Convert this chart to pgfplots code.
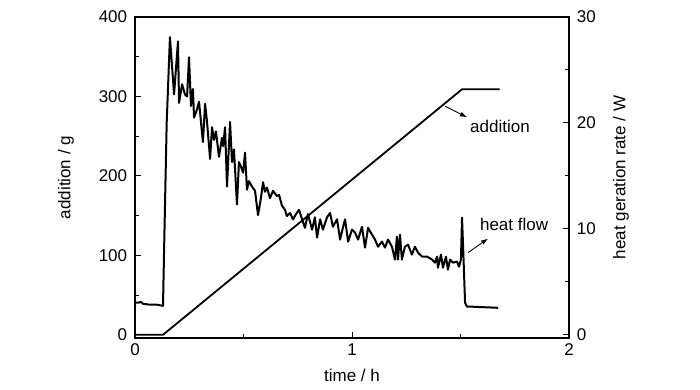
\documentclass[border=0pt]{standalone}
\usepackage{fontspec}
\setmainfont{Liberation Sans}
\usepackage{pgfplots}
\pgfplotsset{compat=1.18}
\usetikzlibrary{arrows.meta}
\begin{document}
\fontsize{17}{20}\selectfont
\begin{tikzpicture}
\useasboundingbox (-135pt,-52pt) rectangle (565pt,338pt);
\pgfplotsset{
  common/.style={
    at={(0pt,0pt)}, anchor=south west,
    scale only axis, width=434pt, height=321pt,
    xmin=0, xmax=2,
    tick align=inside,
    major tick length=6pt, minor tick length=4pt,
    axis line style={line width=1.1pt},
    every tick/.style={line width=1pt, black},
    ticklabel style={font=\fontsize{17}{20}\selectfont},
    label style={font=\fontsize{17}{20}\selectfont},
    /pgf/number format/assume math mode=true,
  }
}
\begin{axis}[common,
  ymin=-4, ymax=400,
  xtick={0,1,2}, ytick={0,100,200,300,400},
  minor x tick num=1, minor y tick num=1,
  xtick pos=bottom, ytick pos=left,
  xlabel={time / h}, ylabel={addition / g},
  xlabel style={at={(axis description cs:0.5,0)}, anchor=center, yshift=-37pt},
  ylabel style={at={(axis description cs:0,0.5)}, anchor=center, yshift=69pt},
  yticklabel style={xshift=-2pt},
]
\addplot[black, line width=1.8pt, line join=round] coordinates {
(0,0) (0.129,0) (1.507,309) (1.68,309)
};
\draw[line width=0.9pt, -{Latex[length=7pt,width=5pt]}] (axis cs:1.429,287.7) -- (axis cs:1.530,273.8);
\node[font=\fontsize{17}{20}\selectfont] at (axis cs:1.682,262.5) {addition};
\draw[line width=0.9pt, -{Latex[length=7pt,width=5pt]}] (axis cs:1.535,103.5) -- (axis cs:1.627,121.1);
\node[font=\fontsize{17}{20}\selectfont] at (axis cs:1.747,138.8) {heat flow};
\end{axis}
\begin{axis}[common,
  ymin=-0.3, ymax=30,
  hide x axis, axis y line*=right,
  ytick={0,10,20,30}, minor y tick num=1,
  ylabel={heat geration rate / W},
  ylabel style={at={(axis description cs:1,0.5)}, anchor=center, yshift=-52pt},
  yticklabel style={xshift=2pt},
]
\addplot[black, line width=2pt, line join=round] coordinates {
(0,3.03) (0.014,3.03) (0.028,3.1) (0.037,2.93) (0.069,2.84) (0.101,2.84) (0.129,2.74)
(0.136,10) (0.146,20) (0.161,28.1)
(0.180,22.7) (0.198,27.7) (0.203,21.9) (0.217,23.65) (0.230,22.7) (0.240,22.5)
(0.249,26.2) (0.258,21.6) (0.267,23.2) (0.272,20.5) (0.286,21.3) (0.295,22.0)
(0.313,18.2) (0.323,21.8) (0.332,20.1) (0.346,16.6) (0.355,19.6) (0.364,18.4)
(0.373,19.2) (0.387,16.8) (0.401,18.6) (0.406,17.8) (0.415,19.6) (0.424,14.0)
(0.438,20.1) (0.447,16.3) (0.456,17.5) (0.470,12.3) (0.479,16.3) (0.488,15.9)
(0.498,15.3) (0.507,17.2) (0.516,13.7) (0.525,14.5) (0.539,14.0) (0.553,13.6)
(0.567,11.3) (0.581,13.0) (0.590,14.4) (0.599,13.5) (0.608,13.9) (0.622,12.9)
(0.636,13.6) (0.654,13.1) (0.664,13.2) (0.677,12.2) (0.691,11.8) (0.700,11.2)
(0.714,11.5) (0.728,10.9) (0.742,11.4) (0.756,11.8) (0.770,10.9) (0.783,10.1)
(0.797,11.4) (0.816,9.93) (0.829,11.1) (0.839,9.18) (0.853,10.9) (0.866,9.93)
(0.885,11.1) (0.899,11.5) (0.912,10.2) (0.931,10.9) (0.945,8.99) (0.959,10.2)
(0.968,10.9) (0.982,8.80) (1.000,9.93) (1.014,9.65) (1.028,8.99) (1.046,10.2)
(1.060,8.23) (1.074,10.1) (1.092,9.46) (1.106,8.99) (1.120,8.32) (1.138,8.80)
(1.152,8.23) (1.166,8.99) (1.184,8.32) (1.198,7.10) (1.207,9.27) (1.212,7.10)
(1.221,9.46) (1.230,7.10) (1.244,8.32) (1.258,8.51) (1.276,7.57) (1.290,8.32)
(1.304,7.76) (1.323,7.38) (1.346,7.38) (1.369,7.10) (1.382,6.81) (1.392,7.38)
(1.396,6.34) (1.410,7.57) (1.419,6.34) (1.433,7.38) (1.442,6.15) (1.452,7.10)
(1.465,6.81) (1.484,6.91) (1.493,6.43) (1.502,7.10) (1.507,11.07) (1.512,8.32)
(1.521,3.03) (1.530,2.65) (1.558,2.65) (1.673,2.55)
};
\end{axis}
\end{tikzpicture}
\end{document}
